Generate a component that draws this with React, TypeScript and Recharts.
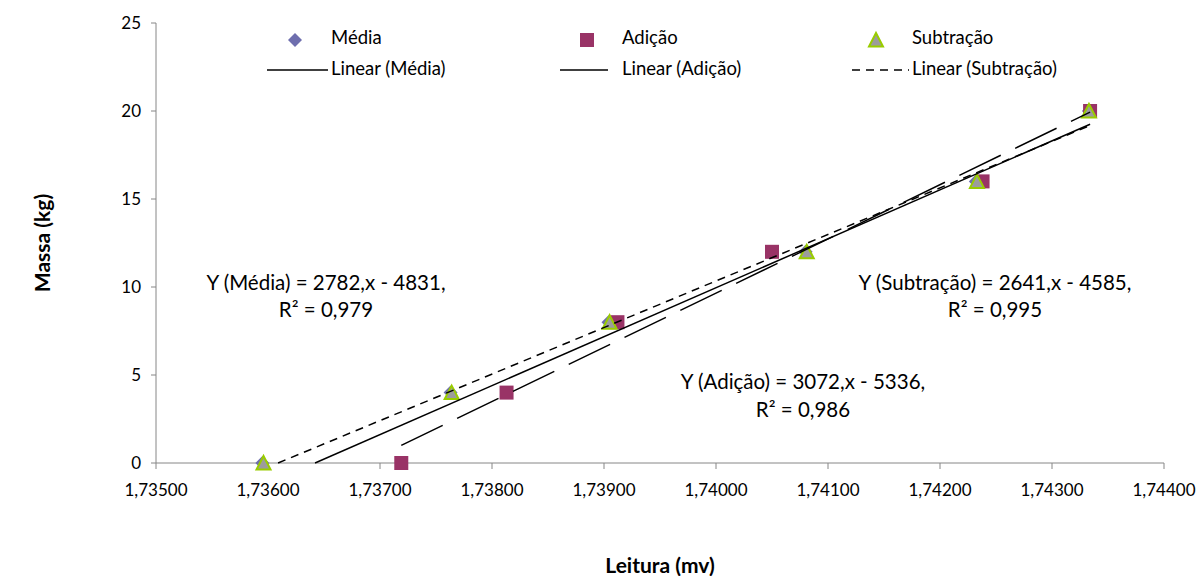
import { Scatter, ScatterChart, XAxis, YAxis } from "recharts";

// massa (kg) applied at each reading
const massa = [0, 4, 8, 12, 16, 20];
// leitura (mv) for each series
const leituraMedia = [1.73595, 1.73763, 1.73904, 1.7408, 1.74232, 1.74333];
const leituraAdicao = [1.73719, 1.73813, 1.73912, 1.7405, 1.74238, 1.74334];
const leituraSubtracao = [1.73596, 1.73764, 1.73905, 1.74081, 1.74233, 1.74333];

// trendline end points
const trendMediaX = [1.73642, 1.74334];
const trendMediaY = [0, 19.25];
const trendAdicaoX = [1.73719, 1.74334];
const trendAdicaoY = [1.0, 19.94];
const trendSubtracaoX = [1.73609, 1.74333];
const trendSubtracaoY = [0, 19.15];

const xTicks = [1.735, 1.736, 1.737, 1.738, 1.739, 1.74, 1.741, 1.742, 1.743, 1.744];
const yTicks = [0, 5, 10, 15, 20, 25];

const FONT = "Lato, 'Open Sans', sans-serif";

const toPoints = (xs: number[], ys: number[]) => xs.map((x, i) => ({ x, y: ys[i] }));

const mediaPts = toPoints(leituraMedia, massa);
const adicaoPts = toPoints(leituraAdicao, massa);
const subtracaoPts = toPoints(leituraSubtracao, massa);

const COL_MEDIA = "#6E6EAE";
const COL_ADICAO = "#993366";
const TRI_FILL = "#9C9C9C";
const TRI_STROKE = "#99CC00";

const Diamond = (p: any) => (
  <polygon
    points={`${p.cx},${p.cy - 7} ${p.cx + 7},${p.cy} ${p.cx},${p.cy + 7} ${p.cx - 7},${p.cy}`}
    fill={COL_MEDIA}
  />
);
const Square = (p: any) => (
  <rect x={p.cx - 7} y={p.cy - 7} width={14} height={14} fill={COL_ADICAO} />
);
const Triangle = (p: any) => (
  <polygon
    points={`${p.cx},${p.cy - 7} ${p.cx + 7},${p.cy + 6.5} ${p.cx - 7},${p.cy + 6.5}`}
    fill={TRI_FILL}
    stroke={TRI_STROKE}
    strokeWidth={2}
  />
);
const NoDot = () => <g />;

const fmtX = (v: number) => v.toFixed(5).replace(".", ",");

export default function App() {
  return (
    <div style={{ position: "absolute", left: 0, top: 0, width: 1198, height: 576, background: "#fff" }}>
      <ScatterChart width={1198} height={576} margin={{ top: 23, right: 34, bottom: 0, left: 0 }}>
        <XAxis
          type="number"
          dataKey="x"
          domain={[1.735, 1.744]}
          ticks={xTicks}
          tickFormatter={fmtX}
          height={113}
          stroke="#868686"
          tickSize={6}
          tickMargin={15}
          tick={{ fill: "#000", fontSize: 17, fontFamily: FONT }}
        />
        <YAxis
          type="number"
          dataKey="y"
          domain={[0, 25]}
          ticks={yTicks}
          width={156}
          stroke="#868686"
          tickSize={5}
          tickMargin={10}
          tick={{ fill: "#000", fontSize: 17, fontFamily: FONT }}
        />
        <Scatter data={mediaPts} shape={Diamond} isAnimationActive={false} />
        <Scatter data={adicaoPts} shape={Square} isAnimationActive={false} />
        <Scatter data={subtracaoPts} shape={Triangle} isAnimationActive={false} />
        <Scatter
          data={toPoints(trendMediaX, trendMediaY)}
          shape={NoDot}
          line={{ stroke: "#000", strokeWidth: 1.5 }}
          isAnimationActive={false}
        />
        <Scatter
          data={toPoints(trendAdicaoX, trendAdicaoY)}
          shape={NoDot}
          line={{ stroke: "#000", strokeWidth: 1.5, strokeDasharray: "46 16" }}
          isAnimationActive={false}
        />
        <Scatter
          data={toPoints(trendSubtracaoX, trendSubtracaoY)}
          shape={NoDot}
          line={{ stroke: "#000", strokeWidth: 1.5, strokeDasharray: "8 6" }}
          isAnimationActive={false}
        />
      </ScatterChart>

      <svg
        width={1198}
        height={576}
        style={{ position: "absolute", left: 0, top: 0, pointerEvents: "none" }}
        fontFamily={FONT}
      >
        {/* legend */}
        <g fontSize={18.5} fill="#000">
          <Diamond cx={295} cy={40} />
          <text x={331} y={44}>Média</text>
          <Square cx={587} cy={40} />
          <text x={622} y={44}>Adição</text>
          <Triangle cx={876} cy={40} />
          <text x={912} y={44}>Subtração</text>

          <line x1={267} y1={70} x2={328} y2={70} stroke="#000" strokeWidth={1.5} />
          <text x={331} y={75}>Linear (Média)</text>
          <line x1={560} y1={70} x2={608} y2={70} stroke="#000" strokeWidth={1.5} />
          <text x={622} y={75}>Linear (Adição)</text>
          <line x1={852} y1={70} x2={909} y2={70} stroke="#000" strokeWidth={1.5} strokeDasharray="8 6" />
          <text x={912} y={75}>Linear (Subtração)</text>
        </g>

        {/* trendline equations */}
        <g fontSize={20.5} fill="#000" textAnchor="middle">
          <text x={326} y={290}>Y (Média) = 2782,x - 4831,</text>
          <text x={326} y={317}>R² = 0,979</text>
          <text x={803} y={389}>Y (Adição) = 3072,x - 5336,</text>
          <text x={803} y={417}>R² = 0,986</text>
          <text x={995} y={290}>Y (Subtração) = 2641,x - 4585,</text>
          <text x={995} y={317}>R² = 0,995</text>
        </g>

        {/* axis titles */}
        <g fontSize={21} fontWeight="bold" fill="#000" textAnchor="middle">
          <text x={660} y={573}>Leitura (mv)</text>
          <text x={41} y={243} transform="rotate(-90, 41, 243)" dominantBaseline="central">
            Massa (kg)
          </text>
        </g>
      </svg>
    </div>
  );
}
